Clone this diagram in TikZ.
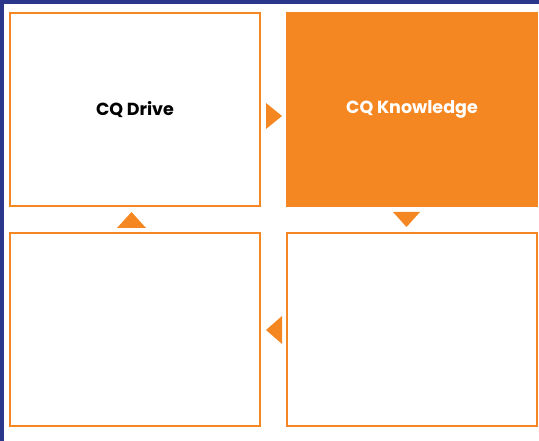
\documentclass[tikz,border=0pt]{standalone}
\usepackage{fontspec}
\setmainfont{Poppins}
\usepackage{xcolor}
\definecolor{cqorange}{RGB}{245,135,35}
\definecolor{cqblue}{RGB}{43,55,138}

\begin{document}
\begin{tikzpicture}[x=1pt, y=-1pt,
	box/.style={draw=cqorange, line width=1.1pt, minimum width=250pt, minimum height=193pt, inner sep=0, font=\bfseries\fontsize{17.5}{20}\selectfont, align=center},
	tri/.style={fill=cqorange, draw=none}
]
\useasboundingbox (0,0) rectangle (539,441);
% frame
\fill[cqblue] (0,0) rectangle (539,4);
\fill[cqblue] (0,0) rectangle (4,441);

\node[box] (drive) at (135,109.5) {CQ Drive};
\node[box, fill=cqorange, text=white] (knowledge) at (412,109.5) {CQ Knowledge};
\node[box] (bright) at (412,329.5) {};
\node[box] (bleft) at (135,329.5) {};

% arrows between boxes
\fill[tri] (266,103) -- (282,116) -- (266,129) -- cycle;
\fill[tri] (393,212) -- (420,212) -- (406.5,227) -- cycle;
\fill[tri] (282,316) -- (282,344) -- (266,330) -- cycle;
\fill[tri] (117,228) -- (146,228) -- (131.5,212) -- cycle;
\end{tikzpicture}
\end{document}
